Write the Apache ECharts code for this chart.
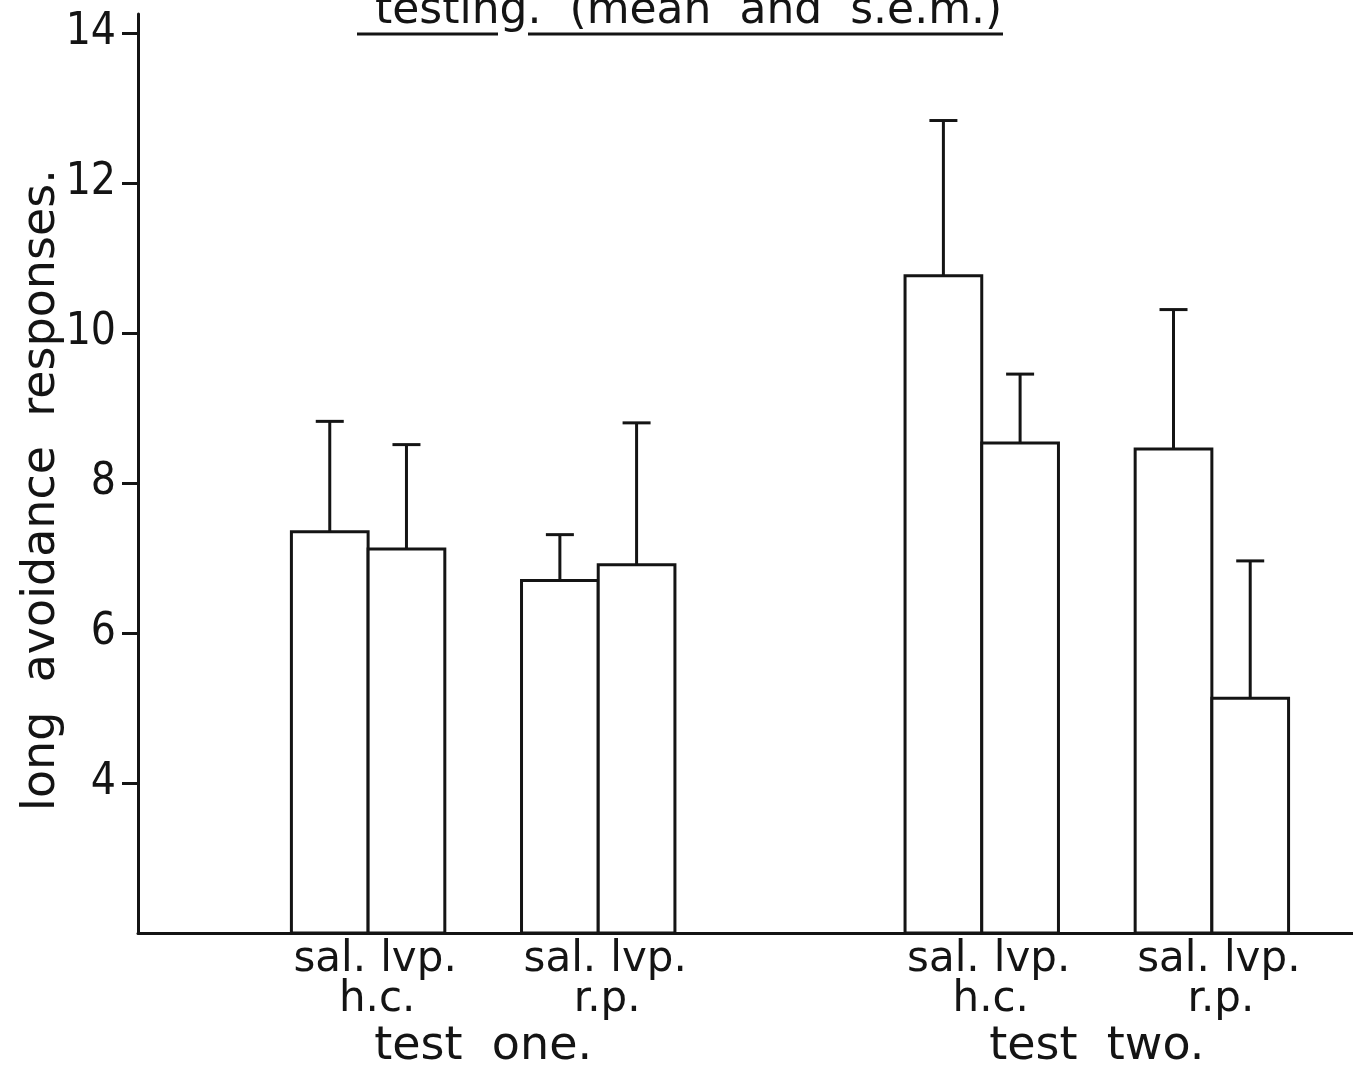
<!DOCTYPE html>
<html>
<head>
<meta charset="utf-8">
<script src="https://cdn.jsdelivr.net/npm/echarts@6/dist/echarts.min.js"></script>
<style>
  html, body { margin: 0; padding: 0; background: #ffffff; overflow: hidden; }
  #chart { width: 1353px; height: 1071px; }
</style>
</head>
<body>
<div id="chart"></div>
<script>
// Long avoidance responses per group, mean and s.e.m.
const treatments = ['sal.', 'lvp.'];
const subgroups = ['h.c.', 'r.p.', 'h.c.', 'r.p.'];
const tests = ['test  one.', 'test  two.'];
const means = [7.35, 7.12, 6.70, 6.91, 10.76, 8.53, 8.45, 5.13];
const sems  = [1.47, 1.39, 0.61, 1.89, 2.07, 0.92, 1.86, 1.83];
const yTicks = [4, 6, 8, 10, 12, 14];
const titleText = 'testing.  (mean  and  s.e.m.)';
const yName = 'long  avoidance  responses.';

// Layout: the x axis runs in bar-width units; each bar sits in one unit slot,
// and the unused slots form the gaps between pairs and tests.
const X_SPAN = 15.84;
const barSlots = [2, 3, 5, 6, 10, 11, 13, 14];
const Y_MIN = 2;
const Y_MAX = 14.25;

const INK = '#141414';
const FONT = "'DejaVu Sans', sans-serif";

const slotLabel = {};
const barData = [];
const errData = [];
barSlots.forEach((s, i) => {
  const c = s + 0.5;
  slotLabel[c] = treatments[i % 2];
  barData.push([c, means[i]]);
  errData.push([c, means[i], means[i] + sems[i]]);
});
const labelPositions = barSlots.map((s) => s + 0.5);

const chart = echarts.init(document.getElementById('chart'), null, { renderer: 'canvas' });

const lineStyle = { stroke: INK, lineWidth: 3 };

chart.setOption({
  animation: false,
  backgroundColor: '#ffffff',
  grid: { left: 138, right: 0, top: 14, bottom: 138, containLabel: false },
  xAxis: {
    type: 'value',
    min: 0,
    max: X_SPAN,
    axisLine: { show: true, onZero: false, lineStyle: { color: INK, width: 3 } },
    axisTick: { show: false },
    axisLabel: {
      customValues: labelPositions,
      margin: 6, fontSize: 42, color: INK, fontFamily: FONT,
      formatter: (v) => {
        const t = slotLabel[v];
        return t === treatments[1] ? '{r|' + t + '}' : t;
      },
      rich: { r: { fontSize: 42, color: INK, fontFamily: FONT, padding: [0, 0, 0, 24] } }
    },
    splitLine: { show: false }
  },
  yAxis: {
    type: 'value',
    min: Y_MIN,
    max: Y_MAX,
    axisLine: { show: true, lineStyle: { color: INK, width: 3 } },
    axisTick: { show: true, inside: false, length: 16, customValues: yTicks, lineStyle: { color: INK, width: 3 } },
    axisLabel: { customValues: yTicks, margin: 22, fontSize: 44, color: INK, fontFamily: "'Liberation Sans Narrow', 'DejaVu Sans Condensed', sans-serif" },
    splitLine: { show: false }
  },
  series: [
    {
      // open bars drawn edge to edge so neighbours share one outline
      type: 'custom',
      data: barData,
      encode: { x: 0, y: 1 },
      z: 2,
      renderItem: function (params, api) {
        const x = api.value(0);
        const top = api.coord([x, api.value(1)]);
        const base = api.coord([x, Y_MIN]);
        const w = api.size([1, 0])[0];
        return {
          type: 'rect',
          shape: { x: top[0] - w / 2, y: top[1], width: w, height: base[1] - top[1] },
          style: { fill: '#ffffff', stroke: INK, lineWidth: 3 }
        };
      }
    },
    {
      // s.e.m. whiskers above each bar
      type: 'custom',
      data: errData,
      encode: { x: 0, y: [1, 2] },
      z: 3,
      renderItem: function (params, api) {
        const x = api.value(0);
        const base = api.coord([x, api.value(1)]);
        const top = api.coord([x, api.value(2)]);
        const half = 14;
        return {
          type: 'group',
          children: [
            { type: 'line', shape: { x1: base[0], y1: base[1], x2: top[0], y2: top[1] }, style: lineStyle },
            { type: 'line', shape: { x1: top[0] - half, y1: top[1], x2: top[0] + half, y2: top[1] }, style: lineStyle }
          ]
        };
      }
    }
  ]
});

// Group captions under the axis, centred on each pair of bars
const px = (v) => chart.convertToPixel({ xAxisIndex: 0 }, v);
const pairCenters = [];
for (let g = 0; g < subgroups.length; g++) {
  pairCenters.push(px(barSlots[2 * g] + 1));
}
const graphics = [];
subgroups.forEach((name, g) => {
  graphics.push({
    type: 'text', x: pairCenters[g] + 9, y: 1015 - 0.346 * 42,
    style: { text: name, font: '42px ' + FONT, fill: INK, align: 'center', verticalAlign: 'middle' }
  });
});
tests.forEach((name, t) => {
  graphics.push({
    type: 'text', x: (pairCenters[2 * t] + pairCenters[2 * t + 1]) / 2, y: 1063 - 0.346 * 46,
    style: { text: name, font: '46px ' + FONT, fill: INK, align: 'center', verticalAlign: 'middle' }
  });
});
// Heading line (its top runs off the page) with its underline
graphics.push({
  type: 'text', x: 375, y: 27 - 0.346 * 44,
  style: { text: titleText, font: '44px ' + FONT, fill: INK, align: 'left', verticalAlign: 'middle' }
});
graphics.push({ type: 'line', shape: { x1: 357, y1: 34, x2: 498, y2: 34 }, style: lineStyle });
graphics.push({ type: 'line', shape: { x1: 528, y1: 34, x2: 1003, y2: 34 }, style: lineStyle });
// Vertical axis title
graphics.push({
  type: 'text', x: 42, y: 490, rotation: Math.PI / 2,
  style: { text: yName, font: '46px ' + FONT, fill: INK, align: 'center', verticalAlign: 'middle' }
});
chart.setOption({ graphic: graphics });
</script>
</body>
</html>
